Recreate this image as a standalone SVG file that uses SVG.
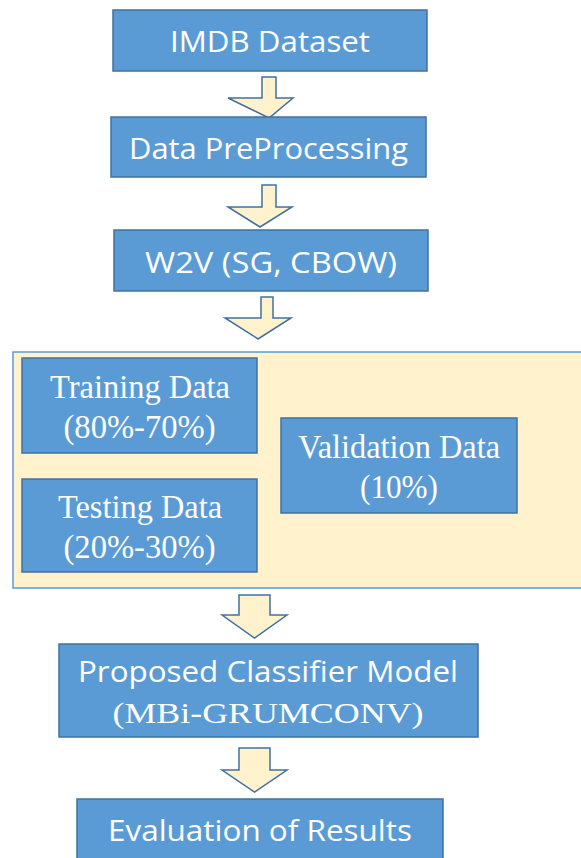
<svg xmlns="http://www.w3.org/2000/svg" width="581" height="858" viewBox="0 0 581 858">
  <style>
    .box { fill: #5B9BD5; stroke: #41719C; stroke-width: 1.5; }
    .panel { fill: #FFF2CC; stroke: #5B9BD5; stroke-width: 1.5; }
    .arrow { fill: #FFF2CC; stroke: #41719C; stroke-width: 1.5; stroke-linejoin: miter; }
    .sans { font-family: "Open Sans", "Noto Sans", "Liberation Sans", sans-serif; font-size: 28.5px; fill: #FFFFFF; }
    .serif { font-family: "Liberation Serif", "DejaVu Serif", serif; font-size: 34px; fill: #FFFFFF; }
    .serif-sm { font-family: "Liberation Serif", "DejaVu Serif", serif; font-size: 30px; fill: #FFFFFF; }
  </style>
  <rect width="581" height="858" fill="#FFFFFF"/>

  <g id="connectors">
    <polygon class="arrow" points="262,77 276,77 276,98 293,98 269,118 228,98 262,98"/>
    <polygon class="arrow" points="262,185 276,185 276,207 292,207 260,227 228,207 262,207"/>
    <polygon class="arrow" points="261,297 273,297 273,318 291,318 258,339 225,318 261,318"/>
    <polygon class="arrow" points="239,595 270,595 270,615 287,615 254.5,638 222,615 239,615"/>
    <polygon class="arrow" points="239,748 270,748 270,770 287,770 254.5,792 222,770 239,770"/>
  </g>

  <g id="imdb">
    <rect class="box" x="113" y="10" width="314" height="61"/>
    <text class="sans" x="270" y="52" text-anchor="middle" textLength="200" lengthAdjust="spacingAndGlyphs">IMDB Dataset</text>
  </g>

  <g id="preprocessing">
    <rect class="box" x="111" y="117" width="315" height="60"/>
    <text class="sans" x="268.5" y="159" text-anchor="middle" textLength="279" lengthAdjust="spacingAndGlyphs">Data PreProcessing</text>
  </g>

  <g id="w2v">
    <rect class="box" x="114" y="230" width="314" height="61"/>
    <text class="sans" x="271" y="273" text-anchor="middle" textLength="252" lengthAdjust="spacingAndGlyphs">W2V (SG, CBOW)</text>
  </g>

  <g id="split">
    <rect class="panel" x="13" y="352" width="580" height="236"/>
    <g id="training">
      <rect class="box" x="22" y="358" width="235" height="95"/>
      <text class="serif" x="140" y="398" text-anchor="middle" textLength="180" lengthAdjust="spacingAndGlyphs">Training Data</text>
      <text class="serif" x="139.5" y="438" text-anchor="middle" textLength="152" lengthAdjust="spacingAndGlyphs">(80%-70%)</text>
    </g>
    <g id="testing">
      <rect class="box" x="22" y="479" width="235" height="93"/>
      <text class="serif" x="140" y="518" text-anchor="middle" textLength="164" lengthAdjust="spacingAndGlyphs">Testing Data</text>
      <text class="serif" x="139.5" y="558" text-anchor="middle" textLength="152" lengthAdjust="spacingAndGlyphs">(20%-30%)</text>
    </g>
    <g id="validation">
      <rect class="box" x="281" y="418" width="236" height="95"/>
      <text class="serif" x="399" y="458" text-anchor="middle" textLength="202" lengthAdjust="spacingAndGlyphs">Validation Data</text>
      <text class="serif" x="399" y="498" text-anchor="middle" textLength="78" lengthAdjust="spacingAndGlyphs">(10%)</text>
    </g>
  </g>

  <g id="classifier">
    <rect class="box" x="59" y="644" width="419" height="93"/>
    <text class="sans" x="268" y="682" text-anchor="middle" textLength="380" lengthAdjust="spacingAndGlyphs">Proposed Classifier Model</text>
    <text class="serif-sm" x="268" y="723" text-anchor="middle" textLength="311" lengthAdjust="spacingAndGlyphs">(MBi-GRUMCONV)</text>
  </g>

  <g id="evaluation">
    <rect class="box" x="77" y="799" width="366" height="80"/>
    <text class="sans" x="260" y="841" text-anchor="middle" textLength="304" lengthAdjust="spacingAndGlyphs">Evaluation of Results</text>
  </g>
</svg>
